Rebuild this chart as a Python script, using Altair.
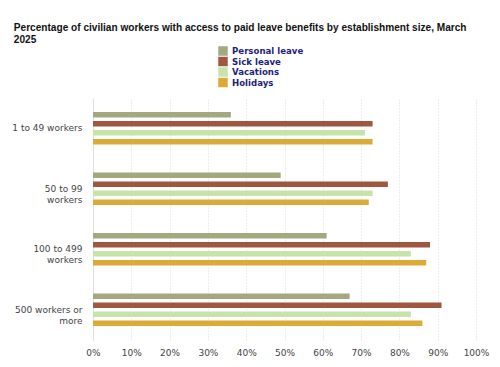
import altair as alt
import pandas as pd

sizes = ["1 to 49 workers", "50 to 99 workers", "100 to 499 workers", "500 workers or more"]
benefits = ["Personal leave", "Sick leave", "Vacations", "Holidays"]
personal = [36, 49, 61, 67]
sick = [73, 77, 88, 91]
vacations = [71, 73, 83, 83]
holidays = [73, 72, 87, 86]
colors = ["#a4a87e", "#a0573f", "#c6e4aa", "#dcaa36"]
x_ticks = [0, 10, 20, 30, 40, 50, 60, 70, 80, 90, 100]

rows = []
for i, s in enumerate(sizes):
    for b, vals in zip(benefits, [personal, sick, vacations, holidays]):
        rows.append({"size": s, "benefit": b, "value": vals[i]})
df = pd.DataFrame(rows)

label_expr = (
    "datum.label == '50 to 99 workers' ? ['50 to 99', 'workers'] : "
    "datum.label == '100 to 499 workers' ? ['100 to 499', 'workers'] : "
    "datum.label == '500 workers or more' ? ['500 workers or', 'more'] : datum.label"
)

chart = alt.Chart(df).mark_bar().encode(
    x=alt.X("value:Q",
            scale=alt.Scale(domain=[0, 100], nice=False),
            axis=alt.Axis(values=x_ticks, labelExpr="datum.value + '%'", title=None,
                          grid=True, gridColor="#dddddd", gridDash=[1, 2],
                          domain=False, ticks=False, labelFont="DejaVu Sans",
                          labelFontSize=9, labelColor="#444444", labelPadding=8,
                          labelFlush=False, labelOverlap=False)),
    y=alt.Y("size:N", sort=sizes,
            scale=alt.Scale(paddingInner=0.314, paddingOuter=0.157),
            axis=alt.Axis(title=None, labelExpr=label_expr, domain=True, domainColor="#e0e0e0",
                          ticks=False, labelFont="DejaVu Sans", labelFontSize=9,
                          labelColor="#444444", labelPadding=11, labelLimit=200,
                          labelLineHeight=11)),
    yOffset=alt.YOffset("benefit:N", sort=benefits,
                        scale=alt.Scale(paddingInner=0.39, paddingOuter=0.5)),
    color=alt.Color("benefit:N", sort=benefits,
                    scale=alt.Scale(domain=benefits, range=colors),
                    legend=alt.Legend(title=None, orient="none", legendX=125, legendY=-52,
                                      symbolType="square", symbolSize=90, symbolStrokeWidth=0,
                                      labelFont="DejaVu Sans", labelFontWeight="bold",
                                      labelFontSize=8.6, labelColor="#1e1e7a", rowPadding=0.5,
                                      labelOffset=4)),
).properties(
    width=383, height=242,
    title=alt.TitleParams(
        ["Percentage of civilian workers with access to paid leave benefits by establishment size, March", "2025"],
        anchor="start", dx=2, offset=1, font="Liberation Sans", fontSize=10.1,
        fontWeight="bold", color="#111111", lineHeight=12),
    autosize="none",
    padding={"left": 93, "top": 98, "right": 24, "bottom": 27},
).configure_view(stroke=None)

chart.save("out.html", embed_options={"renderer": "svg", "actions": False})
